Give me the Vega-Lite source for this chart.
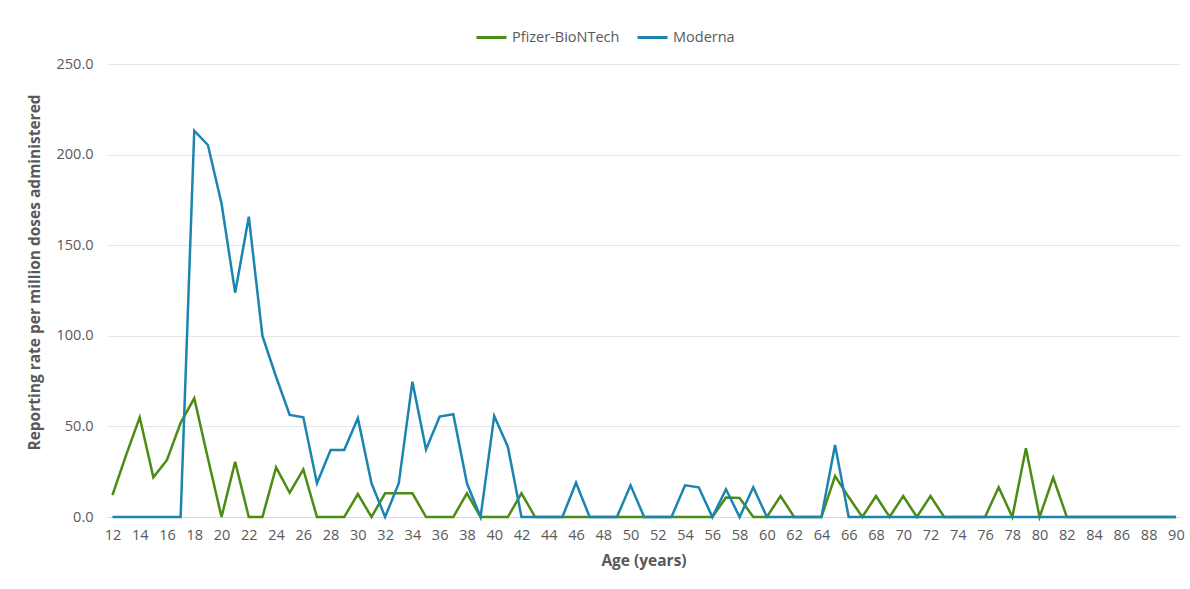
{
  "$schema": "https://vega.github.io/schema/vega-lite/v6.json",
  "width": 1073,
  "height": 453,
  "autosize": {"type": "none"},
  "padding": {"left": 107, "top": 64, "right": 10, "bottom": 72},
  "background": "white",
  "data": {
    "values": [
      {"age": 12, "Pfizer-BioNTech": 12.1, "Moderna": 0},
      {"age": 13, "Pfizer-BioNTech": 34.2, "Moderna": 0},
      {"age": 14, "Pfizer-BioNTech": 55.0, "Moderna": 0},
      {"age": 15, "Pfizer-BioNTech": 21.9, "Moderna": 0},
      {"age": 16, "Pfizer-BioNTech": 31.5, "Moderna": 0},
      {"age": 17, "Pfizer-BioNTech": 52.0, "Moderna": 0},
      {"age": 18, "Pfizer-BioNTech": 65.5, "Moderna": 213.2},
      {"age": 19, "Pfizer-BioNTech": 32.4, "Moderna": 205.3},
      {"age": 20, "Pfizer-BioNTech": 0, "Moderna": 173.0},
      {"age": 21, "Pfizer-BioNTech": 30.5, "Moderna": 123.8},
      {"age": 22, "Pfizer-BioNTech": 0, "Moderna": 165.7},
      {"age": 23, "Pfizer-BioNTech": 0, "Moderna": 99.9},
      {"age": 24, "Pfizer-BioNTech": 27.4, "Moderna": 77.4},
      {"age": 25, "Pfizer-BioNTech": 13.4, "Moderna": 56.3},
      {"age": 26, "Pfizer-BioNTech": 26.3, "Moderna": 55.0},
      {"age": 27, "Pfizer-BioNTech": 0, "Moderna": 18.6},
      {"age": 28, "Pfizer-BioNTech": 0, "Moderna": 37.0},
      {"age": 29, "Pfizer-BioNTech": 0, "Moderna": 37.0},
      {"age": 30, "Pfizer-BioNTech": 12.7, "Moderna": 54.5},
      {"age": 31, "Pfizer-BioNTech": 0, "Moderna": 18.6},
      {"age": 32, "Pfizer-BioNTech": 13.1, "Moderna": 0},
      {"age": 33, "Pfizer-BioNTech": 13.1, "Moderna": 18.6},
      {"age": 34, "Pfizer-BioNTech": 13.1, "Moderna": 74.7},
      {"age": 35, "Pfizer-BioNTech": 0, "Moderna": 37.3},
      {"age": 36, "Pfizer-BioNTech": 0, "Moderna": 55.4},
      {"age": 37, "Pfizer-BioNTech": 0, "Moderna": 56.7},
      {"age": 38, "Pfizer-BioNTech": 13.1, "Moderna": 18.6},
      {"age": 39, "Pfizer-BioNTech": 0, "Moderna": 0},
      {"age": 40, "Pfizer-BioNTech": 0, "Moderna": 55.7},
      {"age": 41, "Pfizer-BioNTech": 0, "Moderna": 38.8},
      {"age": 42, "Pfizer-BioNTech": 13.1, "Moderna": 0},
      {"age": 43, "Pfizer-BioNTech": 0, "Moderna": 0},
      {"age": 44, "Pfizer-BioNTech": 0, "Moderna": 0},
      {"age": 45, "Pfizer-BioNTech": 0, "Moderna": 0},
      {"age": 46, "Pfizer-BioNTech": 0, "Moderna": 18.9},
      {"age": 47, "Pfizer-BioNTech": 0, "Moderna": 0},
      {"age": 48, "Pfizer-BioNTech": 0, "Moderna": 0},
      {"age": 49, "Pfizer-BioNTech": 0, "Moderna": 0},
      {"age": 50, "Pfizer-BioNTech": 0, "Moderna": 17.5},
      {"age": 51, "Pfizer-BioNTech": 0, "Moderna": 0},
      {"age": 52, "Pfizer-BioNTech": 0, "Moderna": 0},
      {"age": 53, "Pfizer-BioNTech": 0, "Moderna": 0},
      {"age": 54, "Pfizer-BioNTech": 0, "Moderna": 17.5},
      {"age": 55, "Pfizer-BioNTech": 0, "Moderna": 16.4},
      {"age": 56, "Pfizer-BioNTech": 0, "Moderna": 0},
      {"age": 57, "Pfizer-BioNTech": 10.7, "Moderna": 15.3},
      {"age": 58, "Pfizer-BioNTech": 10.5, "Moderna": 0},
      {"age": 59, "Pfizer-BioNTech": 0, "Moderna": 16.4},
      {"age": 60, "Pfizer-BioNTech": 0, "Moderna": 0},
      {"age": 61, "Pfizer-BioNTech": 11.6, "Moderna": 0},
      {"age": 62, "Pfizer-BioNTech": 0, "Moderna": 0},
      {"age": 63, "Pfizer-BioNTech": 0, "Moderna": 0},
      {"age": 64, "Pfizer-BioNTech": 0, "Moderna": 0},
      {"age": 65, "Pfizer-BioNTech": 22.6, "Moderna": 39.7},
      {"age": 66, "Pfizer-BioNTech": 11.0, "Moderna": 0},
      {"age": 67, "Pfizer-BioNTech": 0, "Moderna": 0},
      {"age": 68, "Pfizer-BioNTech": 11.6, "Moderna": 0},
      {"age": 69, "Pfizer-BioNTech": 0, "Moderna": 0},
      {"age": 70, "Pfizer-BioNTech": 11.6, "Moderna": 0},
      {"age": 71, "Pfizer-BioNTech": 0, "Moderna": 0},
      {"age": 72, "Pfizer-BioNTech": 11.6, "Moderna": 0},
      {"age": 73, "Pfizer-BioNTech": 0, "Moderna": 0},
      {"age": 74, "Pfizer-BioNTech": 0, "Moderna": 0},
      {"age": 75, "Pfizer-BioNTech": 0, "Moderna": 0},
      {"age": 76, "Pfizer-BioNTech": 0, "Moderna": 0},
      {"age": 77, "Pfizer-BioNTech": 16.4, "Moderna": 0},
      {"age": 78, "Pfizer-BioNTech": 0, "Moderna": 0},
      {"age": 79, "Pfizer-BioNTech": 37.9, "Moderna": 0},
      {"age": 80, "Pfizer-BioNTech": 0, "Moderna": 0},
      {"age": 81, "Pfizer-BioNTech": 21.7, "Moderna": 0},
      {"age": 82, "Pfizer-BioNTech": 0, "Moderna": 0},
      {"age": 83, "Pfizer-BioNTech": 0, "Moderna": 0},
      {"age": 84, "Pfizer-BioNTech": 0, "Moderna": 0},
      {"age": 85, "Pfizer-BioNTech": 0, "Moderna": 0},
      {"age": 86, "Pfizer-BioNTech": 0, "Moderna": 0},
      {"age": 87, "Pfizer-BioNTech": 0, "Moderna": 0},
      {"age": 88, "Pfizer-BioNTech": 0, "Moderna": 0},
      {"age": 89, "Pfizer-BioNTech": 0, "Moderna": 0},
      {"age": 90, "Pfizer-BioNTech": 0, "Moderna": 0}
    ]
  },
  "transform": [
    {"fold": ["Pfizer-BioNTech", "Moderna"], "as": ["vaccine", "rate"]}
  ],
  "mark": {"type": "line", "strokeWidth": 2.5, "clip": false},
  "encoding": {
    "x": {
      "field": "age",
      "type": "quantitative",
      "scale": {"domain": [11.6, 90.3], "nice": false, "zero": false},
      "axis": {
        "values": [12,14,16,18,20,22,24,26,28,30,32,34,36,38,40,42,44,46,48,50,52,54,56,58,60,62,64,66,68,70,72,74,76,78,80,82,84,86,88,90],
        "title": "Age (years)",
        "grid": false,
        "ticks": false,
        "domain": true,
        "domainColor": "#d9d9d9",
        "domainWidth": 1,
        "labelPadding": 11,
        "labelFontSize": 14.5,
        "labelColor": "#595959",
        "labelFont": "Open Sans",
        "titleFont": "Open Sans",
        "titleFontSize": 15.5,
        "titleFontWeight": "bold",
        "titleColor": "#595959",
        "titlePadding": 12
      }
    },
    "y": {
      "field": "rate",
      "type": "quantitative",
      "scale": {"domain": [0, 250], "nice": false},
      "axis": {
        "values": [0, 50, 100, 150, 200, 250],
        "format": ".1f",
        "title": "Reporting rate per million doses administered",
        "grid": true,
        "gridColor": "#e6e6e6",
        "gridWidth": 1,
        "ticks": false,
        "domain": false,
        "labelPadding": 14,
        "labelFontSize": 14.5,
        "labelColor": "#595959",
        "labelFont": "Open Sans",
        "titleFont": "Open Sans",
        "titleFontSize": 15.5,
        "titleFontWeight": "bold",
        "titleColor": "#595959",
        "titlePadding": 14,
        "titleY": 208
      }
    },
    "color": {
      "field": "vaccine",
      "type": "nominal",
      "scale": {"domain": ["Pfizer-BioNTech", "Moderna"], "range": ["#4b8c14", "#1c84b0"]},
      "legend": {
        "title": null,
        "orient": "none",
        "direction": "horizontal",
        "legendX": 368,
        "legendY": -43,
        "symbolType": "stroke",
        "symbolSize": 900,
        "symbolStrokeWidth": 3,
        "labelFontSize": 14.5,
        "labelColor": "#595959",
        "labelFont": "Open Sans",
        "columnPadding": 11
      }
    }
  },
  "config": {"view": {"stroke": null}}
}
